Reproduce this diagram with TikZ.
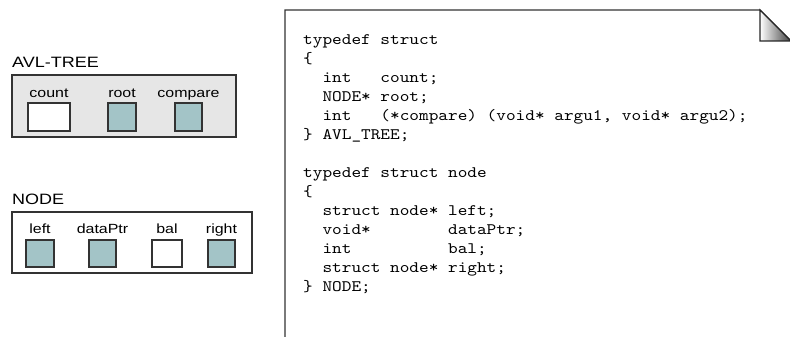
\documentclass[tikz,border=0pt]{standalone}
\usepackage{fontspec}
\setmainfont{Liberation Sans}
\setmonofont{Liberation Mono}
\newfontfamily\lblfont[FakeStretch=1.2]{Liberation Sans}
\newfontfamily\codefont[Extension=.otf,FakeStretch=1.15]{lmmono10-regular}
\usepackage{xcolor}
\usepackage{tikz}
\usetikzlibrary{positioning}
\definecolor{fieldteal}{HTML}{A3C4C7}
\definecolor{recgray}{HTML}{E6E6E6}
\tikzset{
  recbox/.style={draw=black!80,line width=1.1pt,inner sep=0pt},
  fieldbox/.style={draw=black!80,line width=1.1pt,fill=white,minimum height=28pt,inner sep=0pt},
  ptrbox/.style={fieldbox,fill=fieldteal},
  fieldlbl/.style={font=\lblfont\fontsize{13.3}{15}\selectfont,anchor=base,inner sep=0pt},
  titlelbl/.style={font=\lblfont\fontsize{15}{18}\selectfont,anchor=base west,inner sep=0pt},
  codetext/.style={font=\codefont\fontsize{16}{19}\selectfont,align=left,anchor=north west,inner sep=0pt},
  pageedge/.style={draw=black!80,line width=1.3pt},
}

\begin{document}
\begin{tikzpicture}[x=1pt,y=-1pt]
  \useasboundingbox (0,0) rectangle (790,337);
  % AVL-TREE record
  \node[titlelbl] (avlTitle) at (12,67) {AVL-TREE};
  \node[recbox,fill=recgray,minimum width=224pt,minimum height=62pt] (avlRec) at (124,106) {};
  \node[fieldbox,minimum width=42pt] (countBox) at (49,117) {};
  \node[ptrbox,minimum width=28pt] (rootBox) at (122,117) {};
  \node[ptrbox,minimum width=27pt] (compareBox) at (188.5,117) {};
  \node[fieldlbl] (countLbl) at (49,97) {count};
  \node[fieldlbl] (rootLbl) at (122,97) {root};
  \node[fieldlbl] (compareLbl) at (188.5,97) {compare};
  % NODE record
  \node[titlelbl] (nodeTitle) at (12,204) {NODE};
  \node[recbox,fill=white,minimum width=240pt,minimum height=61pt] (nodeRec) at (132,242.5) {};
  \node[ptrbox,minimum width=28pt,minimum height=27pt] (leftBox) at (40,253.5) {};
  \node[ptrbox,minimum width=27pt,minimum height=27pt] (dataBox) at (102.5,253.5) {};
  \node[fieldbox,minimum width=30pt,minimum height=27pt] (balBox) at (167,253.5) {};
  \node[ptrbox,minimum width=27pt,minimum height=27pt] (rightBox) at (221.5,253.5) {};
  \node[fieldlbl] (leftLbl) at (40,233) {left};
  \node[fieldlbl] (dataLbl) at (102.5,233) {dataPtr};
  \node[fieldlbl] (balLbl) at (167,233) {bal};
  \node[fieldlbl] (rightLbl) at (221.5,233) {right};
  % code page
  \draw[pageedge] (285,345) -- (285,10) -- (760,10) -- (791,41) -- (791,345);
  \shadedraw[left color=white,right color=black!75,draw=black!85,line width=1.1pt]
    (760,10) -- (760,41) -- (791,41) -- cycle;
  \node[codetext] (codeText) at (303,31) {\strut typedef struct\\
\{\\
~~int~~~count;\\
~~NODE*~root;\\
~~int~~~(*compare)~(void*~argu1,~void*~argu2);\\
\}~AVL\_TREE;\\
~\\
typedef struct node\\
\{\\
~~struct~node*~left;\\
~~void*~~~~~~~~dataPtr;\\
~~int~~~~~~~~~~bal;\\
~~struct~node*~right;\\
\}~NODE;};
\end{tikzpicture}
\end{document}
